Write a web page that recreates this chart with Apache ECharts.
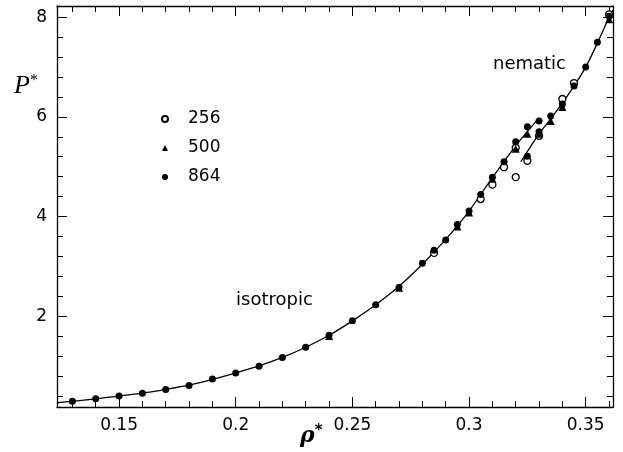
<!DOCTYPE html>
<html><head><meta charset="utf-8">
<script src="https://cdn.jsdelivr.net/npm/echarts@6/dist/echarts.min.js"></script>
<style>html,body{margin:0;padding:0;background:#fff}#c{width:623px;height:452px}</style>
</head><body><div id="c"></div>
<script>
// Tick values
const xMajorTicks = [0.15, 0.2, 0.25, 0.3, 0.35];
const xMinorTicks = [0.13,0.14,0.16,0.17,0.18,0.19,0.21,0.22,0.23,0.24,0.26,0.27,0.28,0.29,0.31,0.32,0.33,0.34,0.36];
const yMajorTicks = [2, 4, 6, 8];
const yMinorTicks = [0.4,0.8,1.2,1.6,2.4,2.8,3.2,3.6,4.4,4.8,5.2,5.6,6.4,6.8,7.2,7.6];

// N = 864 (filled circles)
const rho864 = [0.13,0.14,0.15,0.16,0.17,0.18,0.19,0.20,0.21,0.22,0.23,0.24,0.25,0.26,0.27,0.28,0.285,0.29,0.295,0.30,0.305,0.31,0.315,0.32,0.325,0.33,0.325,0.33,0.335,0.34,0.345,0.35,0.355,0.36];
const p864 = [0.29,0.34,0.395,0.45,0.525,0.605,0.735,0.86,0.995,1.17,1.375,1.615,1.905,2.23,2.58,3.06,3.32,3.53,3.84,4.11,4.44,4.79,5.10,5.50,5.80,5.92,5.21,5.70,6.02,6.26,6.62,7.00,7.50,8.02];
// N = 500 (triangles)
const rho500 = [0.24,0.27,0.295,0.30,0.31,0.32,0.325,0.33,0.335,0.34,0.36];
const p500 = [1.60,2.57,3.80,4.08,4.76,5.36,5.66,5.66,5.92,6.20,7.96];
// N = 256 (open circles)
const rho256 = [0.285,0.305,0.31,0.315,0.32,0.32,0.325,0.33,0.34,0.345,0.36];
const p256 = [3.27,4.35,4.64,4.99,4.79,5.38,5.12,5.62,6.36,6.68,8.06];

// Curves
const isoRho = [0.1234,0.13,0.14,0.15,0.16,0.17,0.18,0.19,0.20,0.21,0.22,0.23,0.24,0.25,0.26,0.27,0.28,0.29,0.30,0.31,0.32,0.33];
const isoP = [0.26,0.29,0.34,0.395,0.455,0.53,0.615,0.73,0.86,1.0,1.17,1.375,1.615,1.905,2.23,2.6,3.04,3.54,4.11,4.78,5.42,5.98];
const nemRho = [0.3222,0.33,0.335,0.34,0.345,0.35,0.355,0.36,0.3617];
const nemP = [5.10,5.66,5.96,6.28,6.62,7.0,7.48,8.0,8.15];

const zip = (a, b) => a.map((v, i) => [v, b[i]]);
const XMIN = 0.1234, XMAX = 0.3617, YMIN = 0.175, YMAX = 8.227;
const FONT = 'DejaVu Sans';

function xAx(pos, ticks, len, labels) {
  return {
    type: 'value', position: pos, min: XMIN, max: XMAX,
    axisLine: { show: labels !== null, onZero: false, lineStyle: { color: '#000', width: 1.3 } },
    axisTick: { show: true, inside: true, length: len, customValues: ticks, lineStyle: { color: '#000', width: 1 } },
    axisLabel: labels ? { show: true, customValues: ticks, color: '#000', fontFamily: FONT, fontSize: 17, margin: 10 } : { show: false },
    splitLine: { show: false }
  };
}
function yAx(pos, ticks, len, labels) {
  return {
    type: 'value', position: pos, min: YMIN, max: YMAX,
    axisLine: { show: labels !== null, onZero: false, lineStyle: { color: '#000', width: 1.3 } },
    axisTick: { show: true, inside: true, length: len, customValues: ticks, lineStyle: { color: '#000', width: 1 } },
    axisLabel: labels ? { show: true, customValues: ticks, color: '#000', fontFamily: FONT, fontSize: 17, margin: 10 } : { show: false },
    splitLine: { show: false }
  };
}

const chart = echarts.init(document.getElementById('c'), null, { renderer: 'canvas' });
chart.setOption({
  animation: false,
  backgroundColor: '#fff',
  grid: { left: 57, right: 10, top: 6, bottom: 45 },
  xAxis: [
    xAx('bottom', xMajorTicks, 10, true),
    xAx('bottom', xMinorTicks, 6, null),
    xAx('top', xMajorTicks, 10, false),
    xAx('top', xMinorTicks, 6, null)
  ],
  yAxis: [
    yAx('left', yMajorTicks, 10, true),
    yAx('left', yMinorTicks, 6, null),
    yAx('right', yMajorTicks, 10, false),
    yAx('right', yMinorTicks, 6, null)
  ],
  legend: {
    data: ['256', '500', '864'],
    orient: 'vertical', left: 156, top: 105,
    itemWidth: 6, itemHeight: 6, itemGap: 11,
    textStyle: { color: '#000', fontFamily: FONT, fontSize: 17, lineHeight: 18, padding: [0, 0, 0, 15] }
  },
  graphic: [
    { type: 'text', left: 493, top: 55, style: { text: 'nematic', font: '18px "DejaVu Sans"', fill: '#000' } },
    { type: 'text', left: 236, top: 291, style: { text: 'isotropic', font: '18px "DejaVu Sans"', fill: '#000' } },
    { type: 'text', left: 14, top: 73, style: {
      text: '{p|P}{s|*}', fill: '#000',
      rich: { p: { fontFamily: 'Liberation Serif', fontStyle: 'italic', fontSize: 26, fill: '#000' },
              s: { fontFamily: 'Liberation Serif', fontSize: 16, verticalAlign: 'top', padding: [0, 0, 8, 0], fill: '#000' } } } },
    { type: 'text', left: 300, top: 424, style: {
      text: '{p|ρ}{s|*}', fill: '#000',
      rich: { p: { fontFamily: 'DejaVu Serif', fontStyle: 'italic', fontWeight: 'bold', fontSize: 22, fill: '#000' },
              s: { fontFamily: 'DejaVu Sans', fontWeight: 'bold', fontSize: 15, padding: [0, 0, 10, 0], fill: '#000' } } } }
  ],
  series: [
    { type: 'line', name: 'iso', data: zip(isoRho, isoP), smooth: 0.3, showSymbol: false, lineStyle: { color: '#000', width: 1.3 }, z: 1 },
    { type: 'line', name: 'nem', data: zip(nemRho, nemP), smooth: 0.3, showSymbol: false, lineStyle: { color: '#000', width: 1.3 }, z: 1 },
    { type: 'scatter', name: '256', data: zip(rho256, p256), symbol: 'circle', symbolSize: 7,
      itemStyle: { color: '#fff', borderColor: '#000', borderWidth: 1.3, opacity: 1 }, z: 2 },
    { type: 'scatter', name: '500', data: zip(rho500, p500), symbol: 'triangle', symbolSize: 8,
      itemStyle: { color: '#000', opacity: 1 }, z: 3 },
    { type: 'scatter', name: '864', data: zip(rho864, p864), symbol: 'circle', symbolSize: 7,
      itemStyle: { color: '#000', opacity: 1 }, z: 4 }
  ]
});
</script></body></html>
